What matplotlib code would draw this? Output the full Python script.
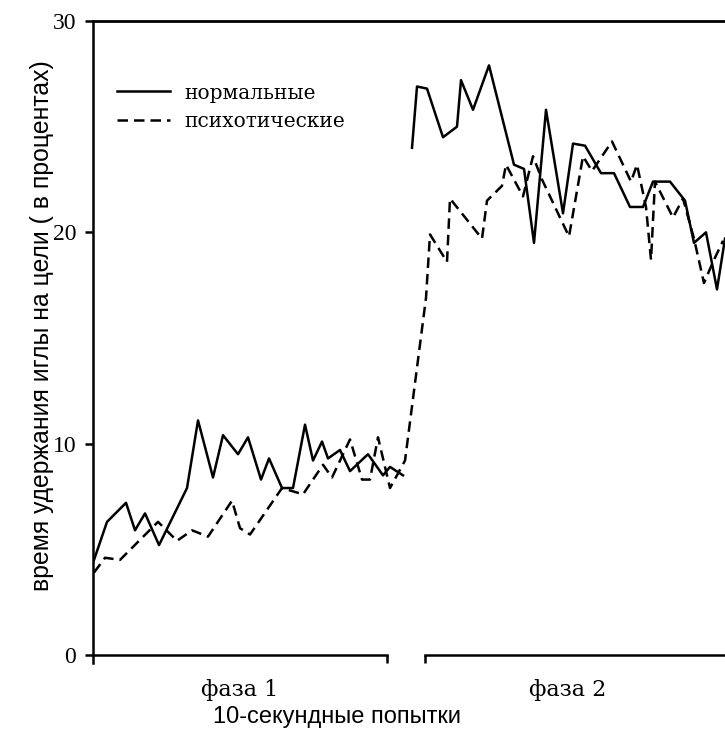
import numpy as np
import matplotlib
matplotlib.use("Agg")
import matplotlib.pyplot as plt

# trial positions (10-second trials) and percent time on target
normal_p1_x = [0.1, 1.4, 3.3, 4.2, 5.2, 6.6, 9.4, 10.5, 12.0, 13.0, 14.5, 15.5, 16.8,
               17.6, 18.9, 20.0, 21.2, 22.0, 22.9, 23.5, 24.7, 25.7, 27.5, 29.0, 29.7, 31.0]
normal_p1_y = [4.5, 6.3, 7.2, 5.9, 6.7, 5.2, 7.9, 11.1, 8.4, 10.4, 9.5, 10.3, 8.3,
               9.3, 7.9, 7.9, 10.9, 9.2, 10.1, 9.3, 9.7, 8.7, 9.5, 8.5, 8.9, 8.5]

normal_p2_x = [31.9, 32.4, 33.4, 35.0, 36.4, 36.8, 38.0, 39.6, 42.1, 43.1, 44.1, 45.3, 47.0,
               48.0, 49.2, 50.8, 52.1, 53.7, 55.0, 56.0, 57.7, 59.2, 60.1, 61.3, 62.4, 63.2]
normal_p2_y = [24.0, 26.9, 26.8, 24.5, 25.0, 27.2, 25.8, 27.9, 23.2, 23.0, 19.5, 25.8, 20.9,
               24.2, 24.1, 22.8, 22.8, 21.2, 21.2, 22.4, 22.4, 21.5, 19.5, 20.0, 17.3, 19.7]

psych_x = [0.1, 1.2, 2.7, 6.5, 8.4, 9.9, 11.5, 13.9, 14.7, 15.7, 18.9, 21.0, 23.0,
           23.9, 25.7, 26.9, 27.7, 28.5, 29.7, 31.2, 33.3, 33.7, 35.4, 35.7, 38.9,
           39.4, 40.9, 41.3, 43.0, 44.0, 44.9, 47.6, 49.0, 49.9, 51.9, 53.8, 54.4,
           55.3, 55.8, 56.2, 58.0, 59.0, 60.1, 61.1, 62.0, 63.0]
psych_y = [3.9, 4.6, 4.5, 6.3, 5.4, 5.9, 5.6, 7.3, 6.0, 5.7, 7.9, 7.6, 9.0,
           8.4, 10.2, 8.3, 8.3, 10.3, 7.9, 9.2, 16.9, 19.9, 18.6, 21.6, 19.7,
           21.5, 22.2, 23.2, 21.7, 23.6, 22.5, 19.8, 23.6, 22.9, 24.3, 22.4, 23.2,
           21.2, 18.7, 22.4, 20.7, 21.6, 19.7, 17.6, 18.6, 19.6]

series_names = ["нормальные", "психотические"]
phase_names = ["фаза 1", "фаза 2"]
phase1_end = 29.4
phase2_start = 33.2
y_ticks = [0, 10, 20, 30]

serif = ["Liberation Serif", "DejaVu Serif"]
wide_serif = ["DejaVu Serif"]
sans = ["Liberation Sans", "DejaVu Sans"]

fig = plt.figure(figsize=(7.25, 7.37), dpi=100)
ax = fig.add_axes([0.1283, 0.1113, 0.8717, 0.8602])

lw = 1.8
ax.plot(normal_p1_x, normal_p1_y, color="black", lw=lw, label=series_names[0])
ax.plot(normal_p2_x, normal_p2_y, color="black", lw=lw)
ax.plot(psych_x, psych_y, color="black", lw=lw, linestyle=(0, (4.2, 2.4)),
        label=series_names[1])

ax.set_xlim(0, 63.2)
ax.set_ylim(0, 30)

# frame: top + left spines, broken bottom axis
ax.spines["right"].set_visible(False)
ax.spines["bottom"].set_visible(False)
ax.spines["top"].set_linewidth(2.0)
ax.spines["left"].set_linewidth(1.8)
ax.spines["left"].set_bounds(-0.4, 30)
ax.plot([0, phase1_end], [0, 0], color="black", lw=1.8, clip_on=False)
ax.plot([phase2_start, 63.2], [0, 0], color="black", lw=1.8, clip_on=False)
ax.set_xticks([phase1_end, phase2_start])
ax.set_xticklabels([])
ax.tick_params(axis="x", direction="out", length=6, width=1.8)

ax.set_yticks(y_ticks)
ax.set_yticklabels([str(t) for t in y_ticks], fontfamily=serif, fontsize=17)
ax.tick_params(axis="y", direction="out", length=6, width=1.8, pad=6)

ax.set_ylabel("время удержания иглы на цели ( в процентах)", fontfamily=sans,
              fontsize=17.8)
ax.yaxis.set_label_coords(-0.062, 0.52)

ax.text(phase1_end / 2, -0.055, phase_names[0], transform=ax.get_xaxis_transform(),
        ha="center", va="center", fontfamily=wide_serif, fontsize=16)
ax.text(47.5, -0.055, phase_names[1], transform=ax.get_xaxis_transform(),
        ha="center", va="center", fontfamily=wide_serif, fontsize=16)
fig.text(337 / 725, 1 - 717 / 737, "10-секундные попытки", ha="center", va="center",
         fontfamily=sans, fontsize=17)

ax.legend(loc="upper left", bbox_to_anchor=(0.01, 0.93), frameon=False,
          prop={"family": wide_serif, "size": 14.5}, handlelength=2.6,
          handletextpad=0.7, labelspacing=0.45)

fig.savefig("out.png", dpi=100)
